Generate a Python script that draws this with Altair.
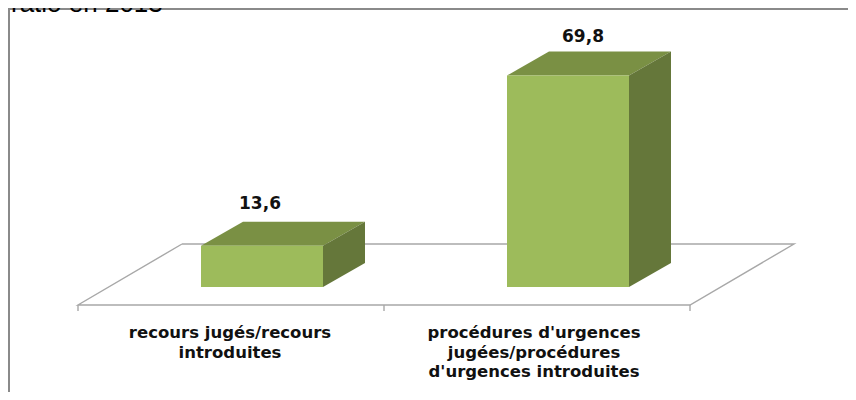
import altair as alt
import pandas as pd

# ---- chart values ----
categories = ["recours jugés/recours\nintroduites",
              "procédures d'urgences\njugées/procédures\nd'urgences introduites"]
values = [13.6, 69.8]
value_labels = ["13,6", "69,8"]
caption = "ratio en 2013"

# ---- layout (page pixels) ----
PX = 3.03            # pixels per value unit
BASE = 287           # page y of value 0 (front of the bars)
W, H = 840, 384
FL, FR, FB = 78, 690, 305   # floor front edge
BD, BH = 104, 61            # floor depth
BAR_L = [201, 507]
BAR_W = 122
DX, DY = 42, 24             # bar depth
LABEL_X = [260, 583]
LABEL_GAP = [16, 13]
TEXT_X = [230, 534]
TEXT_Y = 325
FRONT, TOP, SIDE = "#9dbb5b", "#7a9044", "#65773a"
GRID = "#a8a8a8"
FRAME = "#8a8a8a"


def vy(py):
    return (BASE - py) / PX


xs = alt.Scale(domain=[8, 8 + W], range=[0, W], nice=False, zero=False)
ys = alt.Scale(domain=[vy(8 + H), vy(8)], range=[H, 0], nice=False, zero=False)
X = lambda f: alt.X(f, type="quantitative", scale=xs, axis=None)
Y = lambda f: alt.Y(f, type="quantitative", scale=ys, axis=None)

front, top, side = [], [], []
for i, (l, v) in enumerate(zip(BAR_L, values)):
    r = l + BAR_W
    d = DY / PX
    front.append(dict(x=l, x2=r, y=v, y2=0))
    top.append([dict(x=l, y=v, y2=v), dict(x=l + DX, y=v + d, y2=v),
                dict(x=r, y=v + d, y2=v), dict(x=r + DX, y=v + d, y2=v + d)])
    side.append([dict(x=r, y=v, y2=0), dict(x=r + DX, y=v + d, y2=d)])

floor = [dict(o=k, x=x, y=vy(y)) for k, (x, y) in enumerate(
    [(FL + BD, FB - BH), (FR + BD, FB - BH), (FR, FB), (FL, FB), (FL + BD, FB - BH)])]
ticks = [dict(x=x, y=vy(FB), y2=vy(FB + 6)) for x in (FL, (FL + FR) / 2, FR)]
frame = [dict(o=k, x=x, y=vy(y)) for k, (x, y) in enumerate(
    [(9, 8 + H), (9, 9), (8 + W, 9)])]

floor_l = alt.Chart(pd.DataFrame(floor)).mark_line(color=GRID, strokeWidth=1.4).encode(
    x=X("x"), y=Y("y"), order="o:Q")
tick_l = alt.Chart(pd.DataFrame(ticks)).mark_rule(color=GRID, strokeWidth=1.4).encode(
    x=X("x"), y=Y("y"), y2="y2")
frame_l = alt.Chart(pd.DataFrame(frame)).mark_line(color=FRAME, strokeWidth=2).encode(
    x=X("x"), y=Y("y"), order="o:Q")
front_l = alt.Chart(pd.DataFrame(front)).mark_rect(color=FRONT).encode(
    x=X("x"), x2="x2", y=Y("y"), y2="y2")


def face(rows, color):
    return alt.Chart(pd.DataFrame(rows)).mark_area(
        color=color, interpolate="linear", orient="vertical").encode(
        x=X("x"), y=Y("y"), y2="y2")


faces = [face(t, TOP) for t in top] + [face(s, SIDE) for s in side]

vals = pd.DataFrame({"x": LABEL_X, "t": value_labels,
                     "y": [v + (DY + g) / PX for v, g in zip(values, LABEL_GAP)]})
val_l = alt.Chart(vals).mark_text(font="DejaVu Sans", fontWeight="bold", fontSize=17,
                                  color="#111111", baseline="bottom", dy=7).encode(
    x=X("x"), y=Y("y"), text="t:N")

cats = pd.DataFrame({"x": TEXT_X, "t": categories, "y": [vy(TEXT_Y)] * 2})
cat_l = alt.Chart(cats).mark_text(font="DejaVu Sans", fontWeight="bold", fontSize=16.5,
                                  color="#111111", baseline="top", lineBreak="\n",
                                  lineHeight=19.5).encode(
    x=X("x"), y=Y("y"), text="t:N")

cap = alt.Chart(pd.DataFrame({"x": [11], "y": [vy(8)], "t": [caption]})).mark_text(
    font="Liberation Sans", fontSize=26, color="#000000", align="left",
    baseline="bottom", dy=9).encode(x=X("x"), y=Y("y"), text="t:N")

chart = alt.layer(frame_l, floor_l, tick_l, *faces, front_l, val_l, cat_l, cap).properties(
    width=W, height=H, padding=0, autosize=alt.AutoSizeParams(type="none"),
    background="white"
).configure_view(stroke=None)

chart.save("out.html", embed_options={"renderer": "svg", "actions": False})
